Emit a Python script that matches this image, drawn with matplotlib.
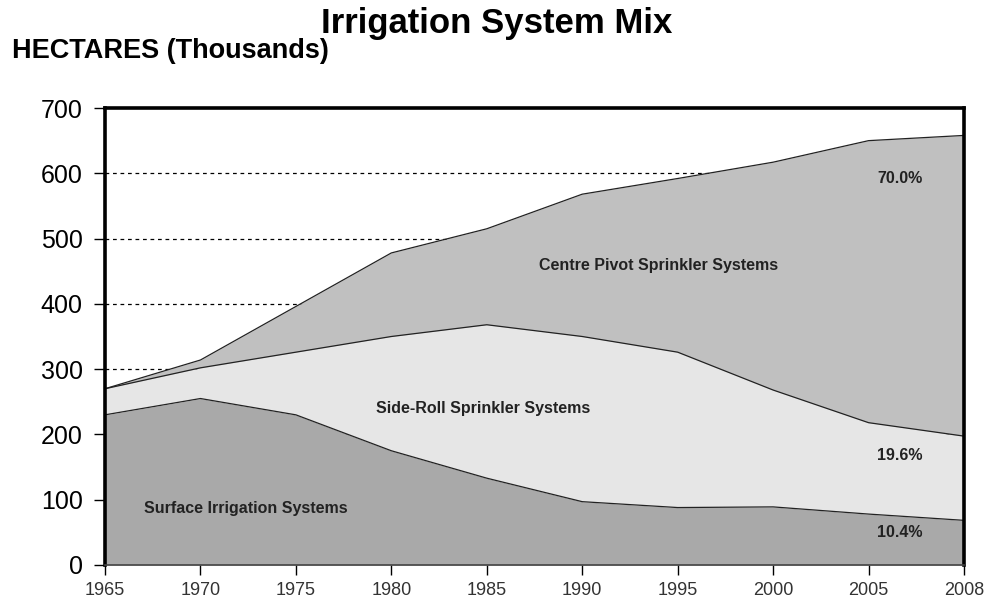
import matplotlib
matplotlib.use("Agg")
import matplotlib.pyplot as plt
import numpy as np

plt.rcParams['font.family'] = ['Liberation Sans', 'DejaVu Sans']

years = ['1965', '1970', '1975', '1980', '1985', '1990', '1995', '2000', '2005', '2008']
surface = [230, 255, 230, 175, 133, 97, 88, 89, 78, 68.4]
side_roll = [40, 47, 96, 175, 235, 253, 238, 179, 140, 129.0]
pivot = [0, 12, 70, 128, 147, 218, 266, 349, 432, 460.6]

x = np.arange(len(years))
s1 = np.array(surface)
s2 = s1 + np.array(side_roll)
s3 = s2 + np.array(pivot)

fig = plt.figure(figsize=(9.89, 6.05), dpi=100)
ax = fig.add_axes([105/989, 1 - 565/605, (964 - 105)/989, (565 - 108)/605])

# dashed gridlines sit behind the filled areas
for v in range(100, 700, 100):
    ax.axhline(v, color='black', lw=0.9, ls=(0, (3, 3)), zorder=0)

ax.fill_between(x, 0, s1, color='#a9a9a9', lw=0, zorder=1)
ax.fill_between(x, s1, s2, color='#e6e6e6', lw=0, zorder=1)
ax.fill_between(x, s2, s3, color='#c0c0c0', lw=0, zorder=1)
for top in (s1, s2, s3):
    ax.plot(x, top, color='#222222', lw=0.9, zorder=2)

ax.set_xlim(0, len(years) - 1)
ax.set_ylim(0, 700)
ax.set_xticks(x)
ax.set_xticklabels(years, fontsize=13, color='#333333')
ax.set_yticks(range(0, 800, 100))
ax.tick_params(axis='y', labelsize=18, length=8, width=1, pad=8)
ax.tick_params(axis='x', length=7, width=1, pad=5)

for side in ('left', 'top', 'right'):
    ax.spines[side].set_linewidth(2.6)
ax.spines['bottom'].set_linewidth(1.2)
ax.spines['bottom'].set_color('#444444')
for sp in ax.spines.values():
    sp.set_zorder(5)

# series names inside the areas
lab = dict(fontsize=11.5, fontweight='bold', color='#222222', ha='center', va='center', zorder=6)
ax.text(5.8, 459, 'Centre Pivot Sprinkler Systems', **lab)
ax.text(3.96, 240, 'Side-Roll Sprinkler Systems', **lab)
ax.text(1.48, 87, 'Surface Irrigation Systems', **lab)

# shares in the last year
total = s3[-1]
pct = dict(fontsize=11.5, fontweight='bold', color='#222222', ha='center', va='center',
           family=['Liberation Sans Narrow', 'Liberation Sans'], zorder=6)
ax.text(8.33, 592, f'{pivot[-1] / total * 100:.1f}%', **pct)
ax.text(8.33, 168, f'{side_roll[-1] / total * 100:.1f}%', **pct)
ax.text(8.33, 50, f'{surface[-1] / total * 100:.1f}%', **pct)

fig.text(497/989, 1 - 24/605, 'Irrigation System Mix', fontsize=25, fontweight='bold',
         ha='center', va='center')
fig.text(12/989, 1 - 51/605, 'HECTARES (Thousands)', fontsize=19.5, fontweight='bold',
         ha='left', va='center')

fig.savefig('out.png', dpi=100)
